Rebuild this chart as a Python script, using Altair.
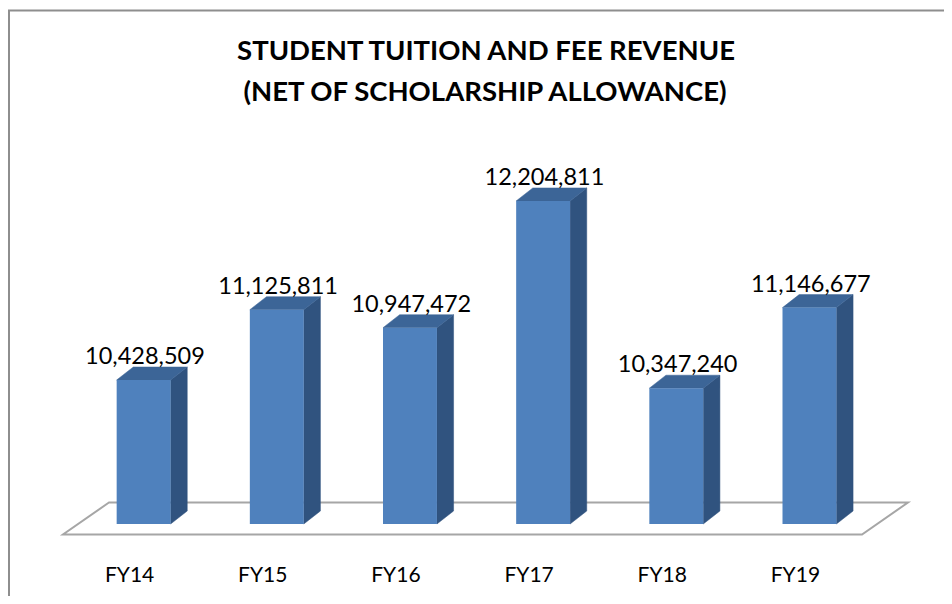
import altair as alt
import pandas as pd

# ---- data ----
categories = ["FY14", "FY15", "FY16", "FY17", "FY18", "FY19"]
values = [10428509, 11125811, 10947472, 12204811, 10347240, 11146677]
title_lines = ["STUDENT TUITION AND FEE REVENUE", "(NET OF SCHOLARSHIP ALLOWANCE)"]

# ---- 3D geometry constants (in scale units) ----
BASE = 9_000_000            # value at which the bars stand
FRONT_L, FRONT_R = 0.403, 0.808   # front face inside each category slot
DX = 0.125                  # depth offset along x (category units)
DY = 129_000                # depth offset along y (value units)
FLOOR_FRONT = 8_896_000
FLOOR_BACK = 9_213_000
FLOOR_SHIFT = 0.345

xs = alt.Scale(domain=[0, 6], range=[55, 854], zero=False, nice=False)
ys = alt.Scale(domain=[9_000_000, 13_000_000], range=[516, 112.8], zero=False, nice=False)

front_rows, side_rows, top_rows, cat_rows = [], [], [], []
for i, (c, v) in enumerate(zip(categories, values)):
    front_rows.append(dict(cat=c, x0=i + FRONT_L, x1=i + FRONT_R, y0=BASE, y1=v,
                           xc=i + (FRONT_L + FRONT_R) / 2 + 0.01, ylab=v + DY,
                           label=f"{v:,}"))
    side_rows.append(dict(cat=c, x=i + FRONT_R, lo=BASE, hi=v))
    side_rows.append(dict(cat=c, x=i + FRONT_R + DX, lo=BASE + DY, hi=v + DY))
    top_rows.append(dict(cat=c, y=v, xlo=i + FRONT_L, xhi=i + FRONT_R))
    top_rows.append(dict(cat=c, y=v + DY, xlo=i + FRONT_L + DX, xhi=i + FRONT_R + DX))
    cat_rows.append(dict(cat=c, x=i + 0.5))

front_df = pd.DataFrame(front_rows)
side_df = pd.DataFrame(side_rows)
top_df = pd.DataFrame(top_rows)
cat_df = pd.DataFrame(cat_rows)
floor_df = pd.DataFrame([
    dict(y=FLOOR_FRONT, xlo=0, xhi=len(categories)),
    dict(y=FLOOR_BACK, xlo=FLOOR_SHIFT, xhi=len(categories) + FLOOR_SHIFT),
])
one_df = pd.DataFrame([{"k": 1}])

FRONT_C = "#4F81BD"
TOP_C = "#3C6597"
SIDE_C = "#30537F"

frame = alt.Chart(one_df).mark_rect(fill="white", stroke="#8E8E8E", strokeWidth=2).encode(
    x=alt.value(1), x2=alt.value(1200), y=alt.value(2.5), y2=alt.value(1200)
)

title1 = alt.Chart(one_df).mark_text(
    font="Lato", fontSize=27.5, fontWeight="bold", color="black",
    align="center", baseline="alphabetic"
).encode(x=alt.value(478), y=alt.value(52), text=alt.value(title_lines[0]))

title2 = alt.Chart(one_df).mark_text(
    font="Lato", fontSize=27.5, fontWeight="bold", color="black",
    align="center", baseline="alphabetic"
).encode(x=alt.value(477), y=alt.value(93), text=alt.value(title_lines[1]))

floor = alt.Chart(floor_df).mark_area(
    orient="horizontal", fill="white", stroke="#A6A6A6", strokeWidth=2
).encode(
    y=alt.Y("y:Q", scale=ys, axis=None),
    x=alt.X("xlo:Q", scale=xs, axis=None),
    x2="xhi:Q",
)

side = alt.Chart(side_df).mark_area(
    orient="vertical", color=SIDE_C, stroke=SIDE_C, strokeWidth=0.5
).encode(
    x=alt.X("x:Q", scale=xs, axis=None),
    y=alt.Y("lo:Q", scale=ys, axis=None),
    y2="hi:Q",
    detail="cat:N",
)

top = alt.Chart(top_df).mark_area(
    orient="horizontal", color=TOP_C, stroke=TOP_C, strokeWidth=0.5
).encode(
    y=alt.Y("y:Q", scale=ys, axis=None),
    x=alt.X("xlo:Q", scale=xs, axis=None),
    x2="xhi:Q",
    detail="cat:N",
)

front = alt.Chart(front_df).mark_rect(color=FRONT_C).encode(
    x=alt.X("x0:Q", scale=xs, axis=None),
    x2="x1:Q",
    y=alt.Y("y0:Q", scale=ys, axis=None),
    y2="y1:Q",
)

value_labels = alt.Chart(front_df).mark_text(
    font="Lato", fontSize=23.5, color="black", baseline="alphabetic", align="center", dy=-3
).encode(
    x=alt.X("xc:Q", scale=xs, axis=None),
    y=alt.Y("ylab:Q", scale=ys, axis=None),
    text="label:N",
)

cat_labels = alt.Chart(cat_df).mark_text(
    font="Lato", fontSize=21, color="black", baseline="alphabetic", align="center"
).encode(
    x=alt.X("x:Q", scale=xs, axis=None),
    y=alt.value(574),
    text="cat:N",
)

chart = alt.layer(
    frame, title1, title2, floor, side, top, front, value_labels, cat_labels
).properties(
    width=936,
    height=588,
    autosize="none",
    padding=0,
).configure_view(stroke=None)

chart.save("out.html", embed_options={"renderer": "svg", "actions": False})
